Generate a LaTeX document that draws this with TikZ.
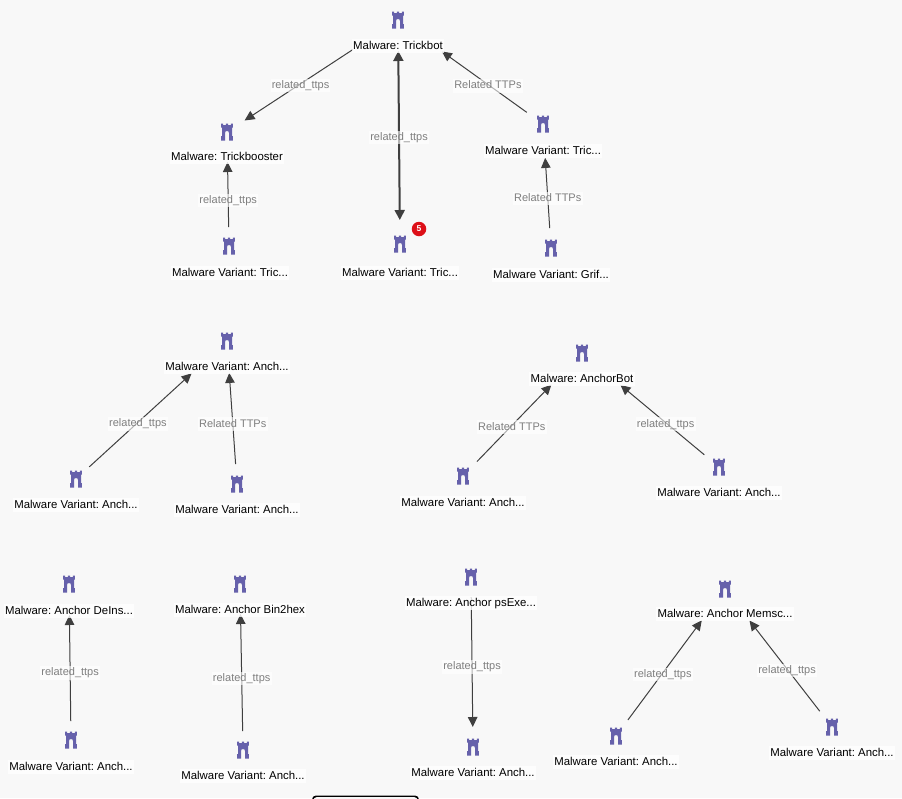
\documentclass[tikz,border=0pt]{standalone}
\usepackage{fontspec}
\setmainfont{Liberation Sans}
\usetikzlibrary{arrows.meta}
\definecolor{pagebg}{HTML}{F8F8F8}
\definecolor{towerc}{HTML}{6661AB}
\definecolor{edgec}{HTML}{3F3F3F}
\definecolor{edgetxt}{HTML}{7F7F7F}
\definecolor{badgec}{HTML}{DD1018}
\tikzset{
  tower/.style={minimum size=20pt,inner sep=0pt,outer sep=0pt,
    path picture={
      \begin{scope}[shift={(path picture bounding box.center)}]
        \fill[towerc] (-5.8,-8.5) -- (-3.8,-8.5) -- (-3.8,-7) -- (-1.2,-7) -- (-1.2,-8.5) -- (1.2,-8.5) -- (1.2,-7) -- (3.8,-7) -- (3.8,-8.5) -- (5.8,-8.5) -- (5.8,-4.4) -- (5,-4.4) -- (5,4) -- (5.8,4) -- (5.8,8.5) -- (2,8.5) -- (2,1) .. controls (2,-0.4) and (1.2,-1) .. (0,-1) .. controls (-1.2,-1) and (-2,-0.4) .. (-2,1) -- (-2,8.5) -- (-5.8,8.5) -- (-5.8,4) -- (-5,4) -- (-5,-4.4) -- (-5.8,-4.4) -- cycle;
      \end{scope}}},
  conn/.style={draw=edgec,line width=1pt,-{Triangle[length=10pt,width=9.5pt]}},
  connthick/.style={draw=edgec,line width=2pt,{Triangle[length=10pt,width=10pt]}-{Triangle[length=10pt,width=10pt]}},
  edgetext/.style={fill=white,fill opacity=.6,text opacity=1,text=edgetxt,font=\fontsize{11}{13}\selectfont,inner sep=1.2pt,text height=8.5pt,text depth=2.5pt,yshift=-1.5pt},
  nodetext/.style={fill=white,fill opacity=.8,text opacity=1,text=black,font=\fontsize{11.4}{13}\selectfont,inner sep=1.2pt,text height=8.5pt,text depth=2.5pt,yshift=-1pt},
  badge/.style={circle,fill=badgec,text=white,font=\fontsize{8.5}{9}\selectfont\bfseries,inner sep=0pt,minimum size=14.5pt}
}
\begin{document}
\frenchspacing
\begin{tikzpicture}[x=1pt,y=-1pt]
\useasboundingbox (0,0) rectangle (902,798);
\clip (0,0) rectangle (902,798);
\fill[pagebg] (0,0) rectangle (902,798);
\fill[black,rounded corners=4pt] (312,795.5) rectangle (419,810);
\fill[pagebg,rounded corners=3pt] (313.5,797.2) rectangle (417.5,810);
% icons
\node[tower] (T) at (398,20) {};
\node[tower] (B) at (227,132) {};
\node[tower] (V1) at (229,246) {};
\node[tower] (V2) at (400,244) {};
\node[tower] (V3) at (543,124) {};
\node[tower] (V4) at (551,248) {};
\node[tower] (A1) at (227,341) {};
\node[tower] (A2) at (76,479) {};
\node[tower] (A3) at (237,484) {};
\node[tower] (AB) at (582,353) {};
\node[tower] (A4) at (463,476) {};
\node[tower] (A5) at (719,467) {};
\node[tower] (D) at (69,584) {};
\node[tower] (D2) at (71,740) {};
\node[tower] (E) at (240,584) {};
\node[tower] (E2) at (243,750) {};
\node[tower] (F) at (471,577) {};
\node[tower] (F2) at (473,747) {};
\node[tower] (G) at (725,589) {};
\node[tower] (G2) at (616,736) {};
\node[tower] (G3) at (832,727) {};
\node[badge] (badge5) at (419,229) {5};
% connectors
\draw[conn,shorten <=54pt,shorten >=21pt] (T.center) -- node[edgetext,pos=.57] (e1) {related\_ttps} (B.center);
\draw[connthick,shorten <=31pt,shorten >=24pt] (T.center) -- node[edgetext,pos=.518] (e2) {related\_ttps} (V2.center);
\draw[conn,shorten <=20pt,shorten >=54pt] (V3.center) -- node[edgetext,pos=.38] (e3) {Related TTPs} (T.center);
\draw[conn,shorten <=20pt,shorten >=34pt] (V4.center) -- node[edgetext,pos=.41] (e4) {Related TTPs} (V3.center);
\draw[conn,shorten <=19pt,shorten >=30pt] (V1.center) -- node[edgetext,pos=.41] (e5) {related\_ttps} (B.center);
\draw[conn,shorten <=18pt,shorten >=48pt] (A2.center) -- node[edgetext,pos=.41] (e6) {related\_ttps} (A1.center);
\draw[conn,shorten <=20pt,shorten >=32pt] (A3.center) -- node[edgetext,pos=.43] (e7) {Related TTPs} (A1.center);
\draw[conn,shorten <=20pt,shorten >=44pt] (A4.center) -- node[edgetext,pos=.41] (e8) {Related TTPs} (AB.center);
\draw[conn,shorten <=19pt,shorten >=50pt] (A5.center) -- node[edgetext,pos=.39] (e9) {related\_ttps} (AB.center);
\draw[conn,shorten <=19pt,shorten >=31pt] (D2.center) -- node[edgetext,pos=.44] (e10) {related\_ttps} (D.center);
\draw[conn,shorten <=19pt,shorten >=30pt] (E2.center) -- node[edgetext,pos=.44] (e11) {related\_ttps} (E.center);
\draw[conn,shorten <=20pt,shorten >=20pt] (F.center) -- node[edgetext,pos=.52] (e12) {related\_ttps} (F2.center);
\draw[conn,shorten <=20pt,shorten >=39pt] (G2.center) -- node[edgetext,pos=.43] (e13) {related\_ttps} (G.center);
\draw[conn,shorten <=20pt,shorten >=40pt] (G3.center) -- node[edgetext,pos=.42] (e14) {related\_ttps} (G.center);
% node labels
\node[nodetext] (lT) at (398,45) {Malware: Trickbot};
\node[nodetext] (lB) at (227,156) {Malware: Trickbooster};
\node[nodetext] (lV1) at (230,272) {Malware Variant: Tric...};
\node[nodetext] (lV2) at (400,272) {Malware Variant: Tric...};
\node[nodetext] (lV3) at (543,150) {Malware Variant: Tric...};
\node[nodetext] (lV4) at (551,274) {Malware Variant: Grif...};
\node[nodetext] (lA1) at (227,366) {Malware Variant: Anch...};
\node[nodetext] (lA2) at (76,504) {Malware Variant: Anch...};
\node[nodetext] (lA3) at (237,509) {Malware Variant: Anch...};
\node[nodetext] (lAB) at (582,378) {Malware: AnchorBot};
\node[nodetext] (lA4) at (463,502) {Malware Variant: Anch...};
\node[nodetext] (lA5) at (719,492) {Malware Variant: Anch...};
\node[nodetext] (lD) at (69,610) {Malware: Anchor DeIns...};
\node[nodetext] (lD2) at (71,766) {Malware Variant: Anch...};
\node[nodetext] (lE) at (240,609) {Malware: Anchor Bin2hex};
\node[nodetext] (lE2) at (243,775) {Malware Variant: Anch...};
\node[nodetext] (lF) at (471,602) {Malware: Anchor psExe...};
\node[nodetext] (lF2) at (473,772) {Malware Variant: Anch...};
\node[nodetext] (lG) at (725,613) {Malware: Anchor Memsc...};
\node[nodetext] (lG2) at (616,761) {Malware Variant: Anch...};
\node[nodetext] (lG3) at (832,752) {Malware Variant: Anch...};
\end{tikzpicture}
\end{document}
